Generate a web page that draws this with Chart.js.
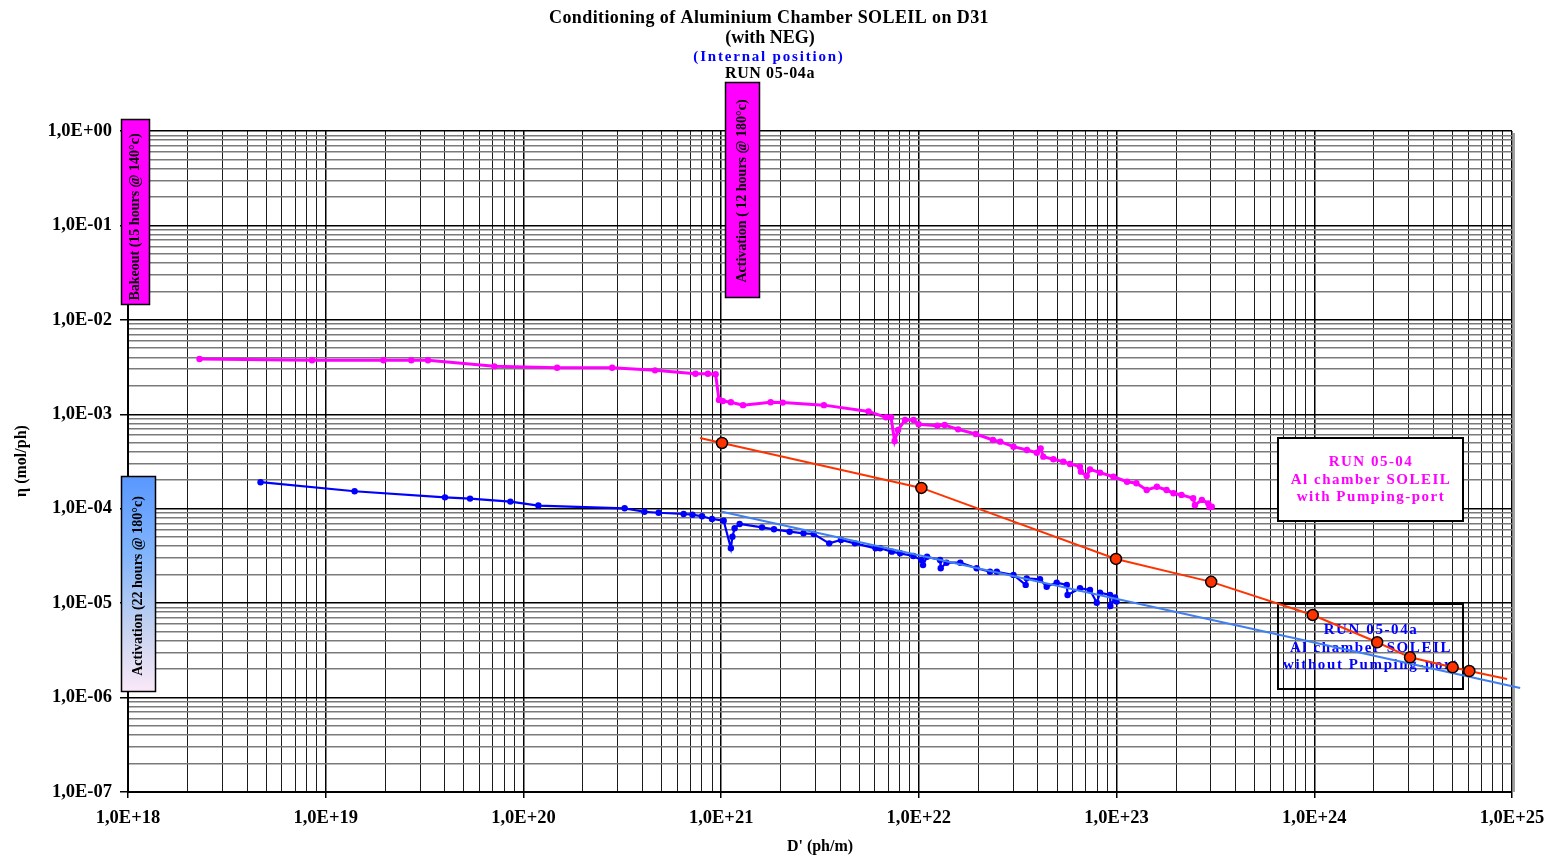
<!DOCTYPE html>
<html>
<head>
<meta charset="utf-8">
<script src="https://cdn.jsdelivr.net/npm/chart.js@4.4.1/dist/chart.umd.min.js"></script>
<style>
html,body{margin:0;padding:0;background:#fff;}
canvas{display:block;}
</style>
</head>
<body>
<canvas id="c" width="1549" height="855"></canvas>
<script>
// ---------------- DATA ----------------
const xTickLabels = ['1,0E+18','1,0E+19','1,0E+20','1,0E+21','1,0E+22','1,0E+23','1,0E+24','1,0E+25'];
const yTickLabels = ['1,0E+00','1,0E-01','1,0E-02','1,0E-03','1,0E-04','1,0E-05','1,0E-06','1,0E-07'];

const titleLines = ['Conditioning of Aluminium Chamber SOLEIL on D31', '(with NEG)', '(Internal position)', 'RUN 05-04a'];
const xAxisTitle = "D' (ph/m)";
const yAxisTitle = 'η (mol/ph)';
const bakeoutLabel = 'Bakeout (15 hours @ 140°c)';
const activation12Label = 'Activation ( 12 hours @ 180°c)';
const activation22Label = 'Activation (22 hours @ 180°c)';
const withPortLines = ['RUN 05-04', 'Al chamber SOLEIL', 'with Pumping-port'];
const withoutPortLines = ['RUN 05-04a', 'Al chamber SOLEIL', 'without Pumping-port'];

// RUN 05-04 (with pumping port) - magenta
const withPortD = [2.30e18, 8.53e18, 1.96e19, 2.71e19, 3.29e19, 7.13e19, 1.48e20, 2.81e20, 4.63e20, 7.41e20,
  8.57e20, 9.38e20, 9.75e20, 1.02e21, 1.12e21, 1.29e21, 1.78e21, 2.05e21, 3.31e21, 5.57e21,
  6.82e21, 7.23e21, 7.54e21, 7.85e21, 8.51e21, 9.40e21, 9.98e21, 1.24e22, 1.35e22, 1.58e22,
  1.94e22, 2.37e22, 2.58e22, 3.01e22, 3.52e22, 3.95e22, 4.13e22, 4.26e22, 4.79e22, 5.38e22,
  5.82e22, 6.53e22, 6.60e22, 7.06e22, 7.34e22, 8.25e22, 9.63e22, 1.13e23, 1.26e23, 1.42e23,
  1.60e23, 1.79e23, 1.94e23, 2.13e23, 2.44e23, 2.49e23, 2.70e23, 2.91e23, 3.03e23, 2.95e23];
const withPortEta = [3.85e-3, 3.73e-3, 3.73e-3, 3.73e-3, 3.73e-3, 3.22e-3, 3.11e-3, 3.11e-3, 2.92e-3, 2.69e-3,
  2.69e-3, 2.65e-3, 1.42e-3, 1.38e-3, 1.34e-3, 1.25e-3, 1.34e-3, 1.33e-3, 1.25e-3, 1.07e-3,
  9.29e-4, 9.29e-4, 5.21e-4, 6.82e-4, 8.70e-4, 8.70e-4, 7.83e-4, 7.57e-4, 7.69e-4, 6.93e-4,
  6.18e-4, 5.34e-4, 5.13e-4, 4.54e-4, 4.19e-4, 3.92e-4, 4.36e-4, 3.56e-4, 3.34e-4, 3.15e-4,
  2.98e-4, 2.79e-4, 2.47e-4, 2.22e-4, 2.61e-4, 2.41e-4, 2.18e-4, 1.93e-4, 1.86e-4, 1.58e-4,
  1.71e-4, 1.58e-4, 1.46e-4, 1.40e-4, 1.29e-4, 1.09e-4, 1.24e-4, 1.14e-4, 1.05e-4, 1.04e-4];

// RUN 05-04a (without pumping port) - blue
const noPortD = [4.68e18, 1.40e19, 4.01e19, 5.37e19, 8.59e19, 1.19e20, 3.25e20, 4.09e20, 4.83e20, 6.46e20,
  7.16e20, 8.01e20, 8.99e20, 1.03e21, 1.12e21, 1.14e21, 1.17e21, 1.24e21, 1.61e21, 1.85e21,
  2.22e21, 2.61e21, 2.94e21, 3.52e21, 4.04e21, 4.75e21, 6.04e21, 6.37e21, 7.30e21, 8.04e21,
  9.38e21, 1.03e22, 1.05e22, 1.10e22, 1.28e22, 1.29e22, 1.38e22, 1.62e22, 1.96e22, 2.29e22,
  2.48e22, 3.01e22, 3.47e22, 3.51e22, 4.10e22, 4.43e22, 4.98e22, 5.60e22, 5.65e22, 6.53e22,
  7.34e22, 7.94e22, 8.25e22, 9.27e22, 9.30e22, 9.82e22, 1.00e23];
const noPortEta = [1.91e-4, 1.53e-4, 1.32e-4, 1.28e-4, 1.19e-4, 1.08e-4, 1.01e-4, 9.29e-5, 9.06e-5, 8.79e-5,
  8.64e-5, 8.31e-5, 7.79e-5, 7.47e-5, 3.81e-5, 5.06e-5, 6.21e-5, 6.89e-5, 6.35e-5, 6.05e-5,
  5.71e-5, 5.49e-5, 5.40e-5, 4.30e-5, 4.67e-5, 4.30e-5, 3.81e-5, 3.81e-5, 3.51e-5, 3.37e-5,
  3.16e-5, 2.86e-5, 2.53e-5, 3.10e-5, 2.86e-5, 2.34e-5, 2.68e-5, 2.68e-5, 2.34e-5, 2.15e-5,
  2.15e-5, 1.99e-5, 1.56e-5, 1.83e-5, 1.79e-5, 1.49e-5, 1.65e-5, 1.56e-5, 1.22e-5, 1.44e-5,
  1.38e-5, 1.01e-5, 1.29e-5, 1.22e-5, 9.33e-6, 1.15e-5, 1.04e-5];

// Blue trend line (RUN 05-04a) end points
const noPortFitD = [1.01e21, 1.10e25];
const noPortFitEta = [9.29e-5, 1.26e-6];

// Red extrapolation points (with pumping port)
const redD = [1.01e21, 1.03e22, 9.93e22, 3.01e23, 9.82e23, 2.08e24, 3.05e24, 5.01e24, 6.08e24];
const redEta = [4.97e-4, 1.66e-4, 2.94e-5, 1.68e-5, 7.49e-6, 3.85e-6, 2.67e-6, 2.09e-6, 1.91e-6];
// red line ends (before first and after last marker)
const redLineStartD = 7.82e20, redLineStartEta = 5.61e-4;
const redLineEndD = 9.44e24, redLineEndEta = 1.57e-6;

// ---------------- BUILD ----------------
const zip = (xs, ys) => xs.map((x, i) => ({x, y: ys[i]}));
const SERIF = '"Liberation Serif", "Times New Roman", serif';

const redLineData = [{x: redLineStartD, y: redLineStartEta}, ...zip(redD, redEta), {x: redLineEndD, y: redLineEndEta}];

function logTicks(e0, e1) {
  const t = [];
  for (let e = e0; e < e1; e++) {
    for (let m = 1; m <= 9; m++) t.push({value: m * Math.pow(10, e), major: m === 1});
  }
  t.push({value: Math.pow(10, e1), major: true});
  return t;
}

const isMajor = c => !!(c.tick && c.tick.major);

function textLine(ctx, str, x, y, font, color, spacing, align) {
  ctx.font = font;
  ctx.fillStyle = color;
  ctx.textAlign = align || 'center';
  ctx.textBaseline = 'alphabetic';
  try { ctx.letterSpacing = (spacing || 0) + 'px'; } catch (e) {}
  ctx.fillText(str, x, y);
  try { ctx.letterSpacing = '0px'; } catch (e) {}
}

function rotatedText(ctx, str, cx, cy, font, color) {
  ctx.save();
  ctx.translate(cx, cy);
  ctx.rotate(-Math.PI / 2);
  ctx.font = font;
  ctx.fillStyle = color;
  ctx.textAlign = 'center';
  ctx.textBaseline = 'middle';
  ctx.fillText(str, 0, 0);
  ctx.restore();
}

const decor = {
  id: 'decor',
  beforeDatasetsDraw(chart) {
    const ctx = chart.ctx;
    ctx.save();
    // plot frame shadow on the right
    ctx.strokeStyle = '#a0a0a0';
    ctx.lineWidth = 2;
    ctx.beginPath();
    ctx.moveTo(chart.chartArea.right + 2, chart.chartArea.top + 2);
    ctx.lineTo(chart.chartArea.right + 2, chart.chartArea.bottom);
    ctx.stroke();
    // legend box for RUN 05-04a (transparent)
    ctx.strokeStyle = '#000';
    ctx.lineWidth = 2;
    ctx.strokeRect(1278, 604, 185, 85);
    const f2 = 'bold 15px ' + SERIF;
    textLine(ctx, withoutPortLines[0], 1371, 634, f2, '#0000ff', 1.6);
    textLine(ctx, withoutPortLines[1], 1371, 652, f2, '#0000ff', 1.6);
    textLine(ctx, withoutPortLines[2], 1371, 669, f2, '#0000ff', 1.6);
    // legend box for RUN 05-04 (white)
    ctx.fillStyle = '#fff';
    ctx.fillRect(1278, 438, 185, 83);
    ctx.strokeStyle = '#000';
    ctx.lineWidth = 2;
    ctx.strokeRect(1278, 438, 185, 83);
    textLine(ctx, withPortLines[0], 1371, 466, f2, '#ff00ff', 1.5);
    textLine(ctx, withPortLines[1], 1371, 484, f2, '#ff00ff', 1.5);
    textLine(ctx, withPortLines[2], 1371, 501, f2, '#ff00ff', 1.5);
    ctx.restore();
  },
  afterDraw(chart) {
    const ctx = chart.ctx;
    ctx.save();
    // titles
    textLine(ctx, titleLines[0], 769, 23, 'bold 18px ' + SERIF, '#000', 0.4);
    textLine(ctx, titleLines[1], 770, 43, 'bold 18px ' + SERIF, '#000', 0);
    textLine(ctx, titleLines[2], 769, 61, 'bold 15px ' + SERIF, '#0000ff', 1.8);
    textLine(ctx, titleLines[3], 770, 78, 'bold 16px ' + SERIF, '#000', 0.6);
    // axis titles
    textLine(ctx, xAxisTitle, 820, 851, 'bold 16px ' + SERIF, '#000', 0);
    rotatedText(ctx, yAxisTitle, 22, 461, 'bold 16px ' + SERIF, '#000');

    // Bakeout box
    ctx.lineWidth = 1.5;
    ctx.strokeStyle = '#000';
    ctx.fillStyle = '#ff00ff';
    ctx.fillRect(121.5, 119.5, 28, 185);
    ctx.strokeRect(121.5, 119.5, 28, 185);
    rotatedText(ctx, bakeoutLabel, 135, 217, 'bold 14px ' + SERIF, '#000');

    // Activation 12h box
    ctx.fillStyle = '#ff00ff';
    ctx.fillRect(725.5, 82.5, 34, 215);
    ctx.strokeRect(725.5, 82.5, 34, 215);
    rotatedText(ctx, activation12Label, 742, 191, 'bold 14px ' + SERIF, '#000');

    // Activation 22h box (gradient)
    const g = ctx.createLinearGradient(0, 477, 0, 692);
    g.addColorStop(0, '#5a98ff');
    g.addColorStop(0.35, '#80b4fb');
    g.addColorStop(0.7, '#c4d2f0');
    g.addColorStop(1, '#fbe8f8');
    ctx.fillStyle = g;
    ctx.fillRect(121.5, 476.5, 34, 215);
    ctx.strokeRect(121.5, 476.5, 34, 215);
    rotatedText(ctx, activation22Label, 138.5, 586, 'bold 14px ' + SERIF, '#000');
    ctx.restore();
  }
};

const tickFont = {family: SERIF, size: 18.5, weight: 'bold'};

new Chart(document.getElementById('c'), {
  type: 'scatter',
  data: {
    datasets: [
      {
        label: 'Extrapolation points',
        data: zip(redD, redEta),
        showLine: false,
        pointRadius: 5.5,
        pointBackgroundColor: '#ff3300',
        pointBorderColor: '#000',
        pointBorderWidth: 1.5
      },
      {
        label: 'Extrapolation line',
        data: redLineData,
        showLine: true,
        borderColor: '#ff3300',
        borderWidth: 2,
        pointRadius: 0,
        tension: 0
      },
      {
        label: 'RUN 05-04a trend',
        data: zip(noPortFitD, noPortFitEta),
        showLine: true,
        borderColor: '#3f7ff2',
        borderWidth: 2,
        pointRadius: 0,
        clip: false
      },
      {
        label: 'RUN 05-04a',
        data: zip(noPortD, noPortEta),
        showLine: true,
        borderColor: '#0000ff',
        backgroundColor: '#0000ff',
        borderWidth: 2.2,
        pointRadius: 3.2,
        pointBorderWidth: 0,
        pointBackgroundColor: '#0000ff',
        tension: 0
      },
      {
        label: 'RUN 05-04',
        data: zip(withPortD, withPortEta),
        showLine: true,
        borderColor: '#ff00ff',
        backgroundColor: '#ff00ff',
        borderWidth: 3,
        pointRadius: 3.2,
        pointBorderWidth: 0,
        pointBackgroundColor: '#ff00ff',
        tension: 0
      }
    ]
  },
  options: {
    responsive: false,
    animation: false,
    devicePixelRatio: 1,
    layout: {padding: {top: 131, right: 37, left: 0, bottom: 0}},
    plugins: {legend: {display: false}, tooltip: {enabled: false}, title: {display: false}},
    scales: {
      x: {
        type: 'logarithmic',
        position: 'bottom',
        min: 1e18,
        max: 1e25,
        afterBuildTicks: s => { s.ticks = logTicks(18, 25); },
        afterFit: s => { s.height = 63; s.paddingLeft = 0; s.paddingRight = 0; },
        border: {display: true, color: '#000', width: 2},
        grid: {
          color: c => isMajor(c) ? '#000' : '#1c1c1c',
          lineWidth: c => isMajor(c) ? 1.5 : 1,
          tickColor: c => isMajor(c) ? '#000' : 'rgba(0,0,0,0)',
          tickLength: 6,
          drawTicks: true
        },
        ticks: {
          autoSkip: false, maxRotation: 0, minRotation: 0, padding: 9,
          color: '#000', font: tickFont,
          callback: (v, i, ts) => ts[i] && ts[i].major ? xTickLabels[Math.round(Math.log10(v)) - 18] : ''
        }
      },
      y: {
        type: 'logarithmic',
        position: 'left',
        min: 1e-7,
        max: 1,
        afterBuildTicks: s => { s.ticks = logTicks(-7, 0); },
        afterFit: s => { s.width = 128; },
        border: {display: true, color: '#000', width: 2},
        grid: {
          color: c => isMajor(c) ? '#000' : '#7a7a7a',
          lineWidth: c => isMajor(c) ? 1.5 : 1.6,
          tickColor: c => isMajor(c) ? '#000' : 'rgba(0,0,0,0)',
          tickLength: 8,
          drawTicks: true
        },
        ticks: {
          autoSkip: false, padding: 8,
          color: '#000', font: tickFont,
          callback: (v, i, ts) => ts[i] && ts[i].major ? yTickLabels[-Math.round(Math.log10(v))] : ''
        }
      }
    }
  },
  plugins: [decor]
});
</script>
</body>
</html>
